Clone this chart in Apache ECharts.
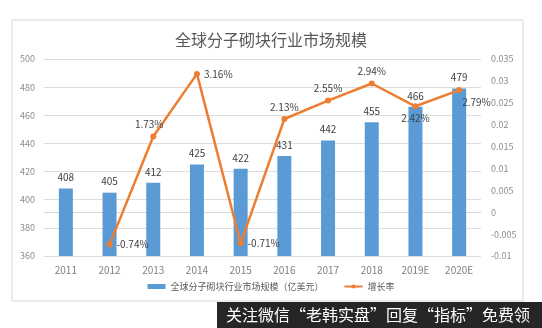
<!DOCTYPE html>
<html><head><meta charset="utf-8">
<script src="https://cdn.jsdelivr.net/npm/echarts@6/dist/echarts.min.js"></script>
<style>html,body{margin:0;padding:0;background:#fff}#c{width:542px;height:328px}</style>
</head><body><div id="c"></div>
<script>
const categories = ['2011','2012','2013','2014','2015','2016','2017','2018','2019E','2020E'];
const marketSize = [408,405,412,425,422,431,442,455,466,479];
const growthRate = [null,-0.0074,0.0173,0.0316,-0.0071,0.0213,0.0255,0.0294,0.0242,0.0279];
const growthLabelPos = [null,'right','top','right','right','top','top','top','bottom','bottom'];
const leftTicks = {min:360,max:500,interval:20};
const rightTicks = {min:-0.01,max:0.035,interval:0.005};
const titleText = '全球分子砌块行业市场规模';
const barName = '全球分子砌块行业市场规模（亿美元）';
const lineName = '增长率';
const watermark = '关注微信“老韩实盘”回复“指标”免费领';

const FONT = '"Noto Sans CJK SC", "Noto Sans", sans-serif';
const chart = echarts.init(document.getElementById('c'));
const lineData = growthRate.map((v,i)=>{
  if (v===null) return null;
  const pos = growthLabelPos[i];
  const o = {value:v,label:{position:pos}};
  if (i===9) o.label = {position:'right', offset:[-4,12]};
  if (i===2) o.label = {position:'top', offset:[-4,0]};
  return o;
});
chart.setOption({
  backgroundColor:'#fff',
  animation:false,
  textStyle:{fontFamily:FONT},
  title:{text:titleText,left:'center',top:27,textStyle:{fontSize:16,fontWeight:'normal',color:'#595959',fontFamily:FONT}},
  grid:{left:44,right:61,top:59,bottom:72},
  legend:{bottom:32,left:'center',itemGap:20,itemWidth:18,itemHeight:5,
    textStyle:{fontSize:9,color:'#595959',fontFamily:FONT},
    data:[{name:barName,icon:'rect'},{name:lineName}]},
  xAxis:{type:'category',data:categories,
    axisLine:{lineStyle:{color:'#d9d9d9'}},axisTick:{show:false},
    axisLabel:{color:'#7f7f7f',fontSize:10,margin:9,fontFamily:FONT}},
  yAxis:[
    {type:'value',min:leftTicks.min,max:leftTicks.max,interval:leftTicks.interval,
     axisLine:{show:false},axisTick:{show:false},
     axisLabel:{color:'#8c8c8c',fontSize:9,margin:9,fontFamily:FONT},
     splitLine:{lineStyle:{color:'#dedede'}}},
    {type:'value',min:rightTicks.min,max:rightTicks.max,interval:rightTicks.interval,
     axisLine:{show:false},axisTick:{show:false},splitLine:{show:false},
     axisLabel:{color:'#8c8c8c',fontSize:9,margin:10,fontFamily:FONT,
       formatter:v=>String(parseFloat(v.toFixed(3)))}}
  ],
  series:[
    {name:barName,type:'bar',data:marketSize,barWidth:14,yAxisIndex:0,
     itemStyle:{color:'#5b9bd5'},
     label:{show:true,position:'top',color:'#404040',fontSize:10,distance:6,fontFamily:FONT}},
    {name:lineName,type:'line',data:lineData,yAxisIndex:1,connectNulls:false,
     symbol:'circle',symbolSize:6,
     lineStyle:{color:'#ed7d31',width:2.5},itemStyle:{color:'#ed7d31'},
     label:{show:true,color:'#404040',fontSize:10,distance:4,fontFamily:FONT,
       formatter:p=>(p.value*100).toFixed(2)+'%'}}
  ],
  graphic:[
    {type:'rect',shape:{x:12,y:20,width:511,height:281},style:{fill:'none',stroke:'#d9d9d9',lineWidth:1},silent:true,z:-1},
    {type:'rect',shape:{x:217,y:302,width:325,height:26},style:{fill:'#262626'},z:10},
    {type:'text',x:226,y:315,style:{text:watermark,fill:'#ffffff',font:'16px '+FONT,textVerticalAlign:'middle'},z:11}
  ]
});
</script></body></html>
